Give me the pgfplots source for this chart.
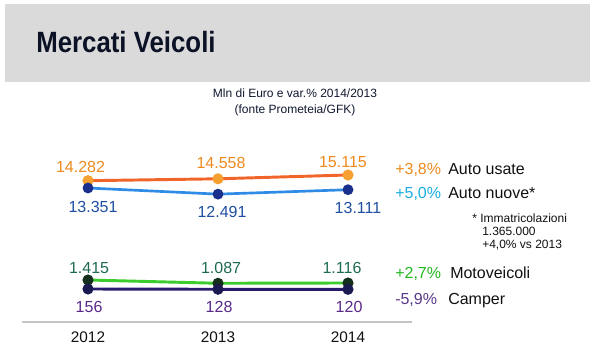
\documentclass[border=0pt]{standalone}
\usepackage{pgfplots}
\pgfplotsset{compat=1.18}
\usepackage{fontspec}
\setmainfont{Liberation Sans}
\newfontfamily\titlefont[FakeStretch=0.88]{Liberation Sans}

\definecolor{bandgray}{HTML}{DADADA}
\definecolor{titlecol}{HTML}{0B1226}
\definecolor{subcol}{HTML}{101830}
\definecolor{orLine}{HTML}{F2652A}
\definecolor{orMark}{HTML}{F5A030}
\definecolor{orText}{HTML}{EE8A1E}
\definecolor{blLine}{HTML}{2E8BE6}
\definecolor{blMark}{HTML}{1B2F8C}
\definecolor{blText}{HTML}{1F4FA0}
\definecolor{cyText}{HTML}{19AEE0}
\definecolor{grLine}{HTML}{3DCC2E}
\definecolor{grMark}{HTML}{14301C}
\definecolor{grText}{HTML}{1E6B50}
\definecolor{grPct}{HTML}{22B822}
\definecolor{puLine}{HTML}{2A1A6E}
\definecolor{puMark}{HTML}{1A1A50}
\definecolor{puText}{HTML}{5A2A8A}
\definecolor{puPct}{HTML}{5A3A8A}
\definecolor{txt}{HTML}{111111}
\definecolor{axgray}{HTML}{C4C4C4}

\pgfplotsset{
  ser/.style={scale only axis, width=195pt, height=97.5pt,
    xmin=2012, xmax=2014, hide axis, clip=false,
    at={(66pt,-225pt)}, anchor=south west,
    /pgf/number format/1000 sep={.},
    /pgf/number format/assume math mode=true},
  lab/.style={nodes near coords,
    visualization depends on={value \thisrow{dx}\as\dx},
    visualization depends on={value \thisrow{dy}\as\dy},
    every node near coord/.append style={anchor=center, inner sep=0pt,
      xshift=\dx pt, yshift=\dy pt, font=\fontsize{12}{14}\selectfont}},
}

\begin{document}
\begin{tikzpicture}[x=0.75pt,y=-0.75pt]
\path[use as bounding box, fill=white] (0,0) rectangle (600,360);
\fill[bandgray] (5,4) rectangle (590,82);
\node[anchor=base west, inner sep=0pt, text=titlecol,
  font=\titlefont\bfseries\fontsize{22}{26}\selectfont] at (36,52.7) {Mercati Veicoli};
\node[inner sep=0pt, text=subcol, font=\fontsize{9}{11}\selectfont] at (295,93) {Mln di Euro e var.\% 2014/2013};
\node[inner sep=0pt, text=subcol, font=\fontsize{9}{11}\selectfont] at (295,110) {(fonte Prometeia/GFK)};

% Auto usate
\begin{axis}[ser, ymin=-3136, ymax=15844]
\addplot[color=orLine, line width=2.2pt, mark=*, mark size=3pt,
  mark options={fill=orMark, draw=orMark}, lab,
  every node near coord/.append style={text=orText}] table {
x y dx dy
2012 14282 -5.6 10.3
2013 14558 2.3 12
2014 15115 -3.8 9.8
};
\end{axis}
% Auto nuove
\begin{axis}[ser, ymin=-2329, ymax=15871]
\addplot[color=blLine, line width=2pt, mark=*, mark size=3pt,
  mark options={fill=blMark, draw=blMark}, lab,
  every node near coord/.append style={text=blText}] table {
x y dx dy
2012 13351 3.8 -14.3
2013 12491 3 -13.7
2014 13111 7.5 -13.5
};
\end{axis}
% Motoveicoli
\begin{axis}[ser, ymin=-585, ymax=12415]
\addplot[color=grLine, line width=2.2pt, mark=*, mark size=3pt,
  mark options={fill=grMark, draw=grMark}, lab,
  every node near coord/.append style={text=grText}] table {
x y dx dy
2012 1415 0.8 9
2013 1087 2.3 11.3
2014 1116 -4.5 11.3
};
\end{axis}
% Camper
\begin{axis}[ser, ymin=-944, ymax=12056]
\addplot[color=puLine, line width=2.2pt, mark=*, mark size=3pt,
  mark options={fill=puMark, draw=puMark}, lab,
  every node near coord/.append style={text=puText}] table {
x y dx dy
2012 156 0.8 -13.5
2013 128 0.8 -13.5
2014 120 0.8 -13.5
};
\end{axis}
% x axis
\begin{axis}[scale only axis, width=292.5pt, height=10pt,
  at={(16.5pt,-241.5pt)}, anchor=south west,
  xmin=2011.4923, xmax=2014.4923, ymin=0, ymax=1,
  axis x line*=bottom, axis y line=none,
  x axis line style={axgray, line width=1.1pt},
  xtick={2012,2013,2014}, xticklabels={2012,2013,2014},
  major tick length=0pt,
  xticklabel style={anchor=center, yshift=-11.25pt, inner sep=0pt,
    text=txt, font=\fontsize{11.5}{14}\selectfont}]
\end{axis}

% right-hand labels
\begin{scope}[every node/.style={anchor=base west, inner sep=0pt, font=\fontsize{12}{14}\selectfont}]
\node[text=orText] at (395,175) {+3,8\%};
\node[text=txt] at (448,175) {Auto usate};
\node[text=cyText] at (395,198) {+5,0\%};
\node[text=txt] at (448,198) {Auto nuove*};
\node[text=grPct] at (395,278) {+2,7\%};
\node[text=txt] at (450,278) {Motoveicoli};
\node[text=puPct] at (395,304) {-5,9\%};
\node[text=txt] at (448,304) {Camper};
\end{scope}
\begin{scope}[every node/.style={anchor=base west, inner sep=0pt, text=txt, font=\fontsize{9}{11}\selectfont}]
\node at (472,222) {* Immatricolazioni};
\node at (482,235.5) {1.365.000};
\node at (482,248.5) {+4,0\% vs 2013};
\end{scope}
\end{tikzpicture}
\end{document}
